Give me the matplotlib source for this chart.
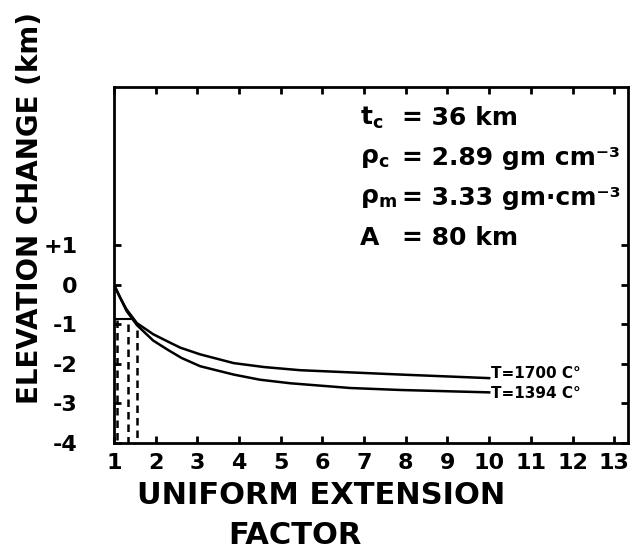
import matplotlib
matplotlib.use("Agg")
import matplotlib.pyplot as plt

# elevation change vs uniform extension factor, two mantle temperatures
factor_1700 = [1.0, 1.15, 1.3, 1.55, 1.94, 2.3, 2.59, 3.07, 3.87, 4.6, 5.47, 7.88, 10.0]
elev_1700 = [0.0, -0.33, -0.62, -0.97, -1.25, -1.44, -1.59, -1.76, -1.98, -2.08, -2.16, -2.27, -2.36]
factor_1394 = [1.0, 1.15, 1.3, 1.55, 1.94, 2.3, 2.62, 3.07, 3.87, 4.5, 5.23, 6.67, 7.88, 10.0]
elev_1394 = [0.0, -0.33, -0.66, -1.02, -1.41, -1.65, -1.85, -2.06, -2.27, -2.4, -2.49, -2.61, -2.66, -2.72]

# dashed verticals near factor ~1
dash_x = [1.08, 1.34, 1.55]
dash_top = [-0.9, -1.0, -1.15]
shelf_y = -0.86
shelf_x = [1.0, 1.42]

xticks = list(range(1, 14))
yticks = [1, 0, -1, -2, -3, -4]
ytick_labels = ["+1", "0", "-1", "-2", "-3", "-4"]

params = [
    ("t$_\\mathregular{c}$", "= 36 km"),
    ("ρ$_\\mathregular{c}$", "= 2.89 gm cm⁻³"),
    ("ρ$_\\mathregular{m}$", "= 3.33 gm·cm⁻³"),
    ("A", "= 80 km"),
]


def main():
    fig = plt.figure(figsize=(6.34, 5.55), dpi=100)
    ax = fig.add_axes([114 / 634, 1 - 443 / 555, (628 - 114) / 634, (443 - 87) / 555])

    ax.plot(factor_1700, elev_1700, color="black", lw=1.8)
    ax.plot(factor_1394, elev_1394, color="black", lw=1.8)
    for x, top in zip(dash_x, dash_top):
        ax.plot([x, x], [top, -4], color="black", lw=1.8, ls=(0, (3, 2)))
    ax.plot(shelf_x, [shelf_y, shelf_y], color="black", lw=1.5)

    ax.annotate("T=1700 C°", (factor_1700[-1], elev_1700[-1]), xytext=(1, 3),
                textcoords="offset points", fontsize=11, fontweight="bold",
                va="center", ha="left")
    ax.annotate("T=1394 C°", (factor_1394[-1], elev_1394[-1]), xytext=(1, -1),
                textcoords="offset points", fontsize=11, fontweight="bold",
                va="center", ha="left")

    ax.set_xlim(1, 13.33)
    ax.set_ylim(-4, 5)
    ax.set_xticks(xticks)
    ax.set_xticklabels([str(v) for v in xticks], fontsize=16, fontweight="bold")
    ax.set_yticks(yticks)
    ax.set_yticklabels(ytick_labels, fontsize=16, fontweight="bold")
    ax.tick_params(axis="x", direction="in", top=True, length=5, width=2, pad=7)
    ax.tick_params(axis="y", direction="in", right=True, length=5, width=2, pad=26)
    for sp in ax.spines.values():
        sp.set_linewidth(2)

    for i, (name, val) in enumerate(params):
        y = 118 + 40 * i
        fig.text(360 / 634, 1 - y / 555, name, fontsize=18, fontweight="bold",
                 va="center", ha="left")
        fig.text(402 / 634, 1 - y / 555, val, fontsize=18, fontweight="bold",
                 va="center", ha="left")

    fig.text(30 / 634, 1 - 208 / 555, "ELEVATION CHANGE (km)", rotation=90,
             fontsize=20, fontweight="bold", ha="center", va="center")
    fig.text(321 / 634, 1 - 495 / 555, "UNIFORM EXTENSION", fontsize=22,
             fontweight="bold", ha="center", va="center")
    fig.text(295 / 634, 1 - 536 / 555, "FACTOR", fontsize=22,
             fontweight="bold", ha="center", va="center")

    fig.savefig("out.png", dpi=100)


if __name__ == "__main__":
    main()
